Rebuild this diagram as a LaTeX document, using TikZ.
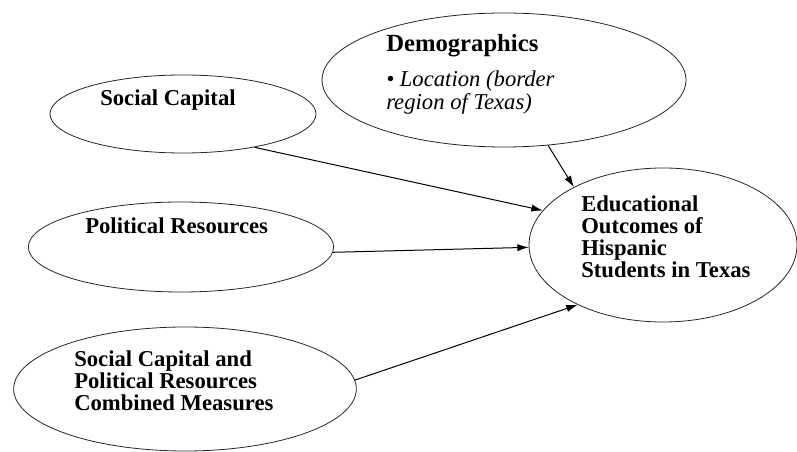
\documentclass[tikz,border=0pt]{standalone}
\usepackage{fontspec}
\setmainfont{Liberation Serif}
\usetikzlibrary{shapes.geometric,arrows.meta}

\begin{document}
\begin{tikzpicture}[x=0.75pt,y=-0.75pt,>={Latex[length=8.5pt,width=5.5pt]},
  oval/.style={ellipse,draw=black!85,line width=0.6pt,inner sep=0pt},
  lbl/.style={inner sep=0pt,align=left,font=\fontsize{17}{16.5}\selectfont\bfseries}]
\useasboundingbox (0,0) rectangle (797,452);

\node[oval,minimum width=199.5pt,minimum height=58.5pt] (sc) at (183,114) {};
\node[oval,minimum width=273pt,minimum height=100.5pt] (demo) at (504,80) {};
\node[oval,minimum width=229pt,minimum height=67.5pt] (pol) at (181,247) {};
\node[oval,minimum width=201pt,minimum height=115.5pt] (edu) at (663,245) {};
\node[oval,minimum width=257pt,minimum height=93pt] (comb) at (185,389) {};

\node[lbl,anchor=base west] (sc_t) at (100,106) {Social Capital};
\node[lbl,anchor=base west,font=\fontsize{18.5}{20}\selectfont\bfseries] (demo_t) at (386,52) {Demographics};
\node[lbl,anchor=north west,font=\fontsize{17}{14.5}\selectfont\itshape] (loc_t) at (386,71) {\textbullet\ Location (border\\region of Texas)};
\node[lbl,anchor=base west] (pol_t) at (85,234) {Political Resources};
\node[lbl,anchor=north west] (edu_t) at (581,195.5) {Educational\\Outcomes of\\Hispanic\\Students in Texas};
\node[lbl,anchor=north west] (comb_t) at (74,350.5) {Social Capital and\\Political Resources\\Combined Measures};

\path[->,line width=0.75pt]
(sc.-25) edge (edu.164)
(demo.-56) edge (edu.147)
(pol.-2) edge (edu.181)
(comb.3) edge (edu.215)
; %end path
\end{tikzpicture}
\end{document}
